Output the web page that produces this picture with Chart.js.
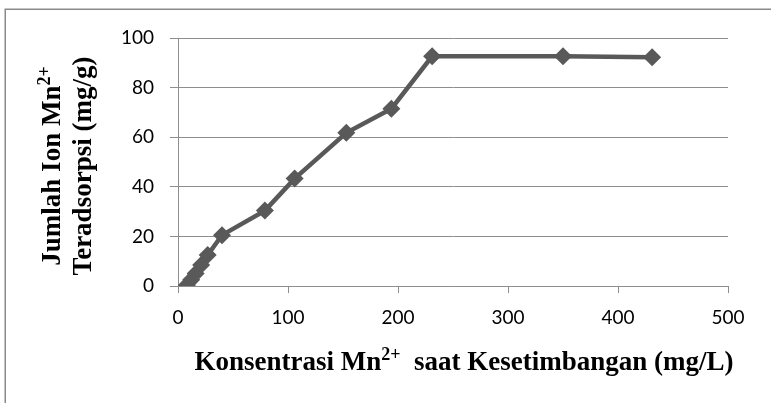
<!DOCTYPE html>
<html>
<head>
<meta charset="utf-8">
<script src="https://cdn.jsdelivr.net/npm/chart.js@4"></script>
<style>
  html, body { margin: 0; padding: 0; background: #ffffff; }
  canvas { display: block; }
</style>
</head>
<body>
<canvas id="isoterm" width="771" height="403"></canvas>
<script>
// Equilibrium concentration of Mn2+ (mg/L) and amount adsorbed (mg/g)
const konsentrasi = [8, 12, 16, 21, 27, 40, 79, 106, 153, 194, 231, 350, 431];
const teradsorpsi = [0.3, 2.5, 5, 8.5, 12.5, 20.5, 30.4, 43.3, 61.8, 71.5, 92.6, 92.6, 92.2];

// Axis tick values
const xTicks = [0, 100, 200, 300, 400, 500];
const yTicks = [0, 20, 40, 60, 80, 100];

// Axis titles as text runs; "sup" runs are set as superscripts
const xTitleRuns = [
  { text: 'Konsentrasi Mn' }, { text: '2+', sup: true }, { text: '  saat Kesetimbangan (mg/L)' }
];
const yTitleLine1 = [
  { text: 'Jumlah Ion Mn' }, { text: '2+', sup: true }
];
const yTitleLine2 = [
  { text: 'Teradsorpsi (mg/g)' }
];

const points = konsentrasi.map((x, i) => ({ x: x, y: teradsorpsi[i] }));

const gridGray = '#8e8e8e';
const tickFont = { family: 'Lato', size: 19 };
const titleSize = 27;
const titleFamily = '"Liberation Serif", "Times New Roman", serif';

// Outer frame around the chart
const framePlugin = {
  id: 'frame',
  beforeDraw(chart) {
    const ctx = chart.ctx;
    ctx.save();
    ctx.fillStyle = '#ffffff';
    ctx.fillRect(0, 0, chart.width, chart.height);
    ctx.strokeStyle = '#8a8a8a';
    ctx.lineWidth = 1.5;
    ctx.strokeRect(5.25, 9.25, chart.width + 20, chart.height + 20);
    ctx.restore();
  }
};

// Draws a run list centred on x=0 along the current baseline (y=0)
function drawRuns(ctx, runs) {
  const supSize = Math.round(titleSize * 0.65);
  const fontOf = r => 'bold ' + (r.sup ? supSize : titleSize) + 'px ' + titleFamily;
  let total = 0;
  runs.forEach(r => { ctx.font = fontOf(r); total += ctx.measureText(r.text).width; });
  let x = -total / 2;
  runs.forEach(r => {
    ctx.font = fontOf(r);
    ctx.fillText(r.text, x, r.sup ? -titleSize * 0.36 : 0);
    x += ctx.measureText(r.text).width;
  });
}

// Axis titles with superscript charge labels
const axisTitlePlugin = {
  id: 'axisTitles',
  afterDraw(chart) {
    const ctx = chart.ctx;
    const area = chart.chartArea;
    ctx.save();
    ctx.fillStyle = '#000000';
    ctx.textBaseline = 'alphabetic';
    ctx.textAlign = 'left';

    // x title below the tick labels
    ctx.save();
    ctx.translate(area.left + (area.right - area.left) / 2 + 11, area.bottom + 84);
    drawRuns(ctx, xTitleRuns);
    ctx.restore();

    // y title, two rotated lines
    const cy = area.top + (area.bottom - area.top) / 2 + 4;
    [[yTitleLine1, 60], [yTitleLine2, 91]].forEach(([runs, bx]) => {
      ctx.save();
      ctx.translate(bx, cy);
      ctx.rotate(-Math.PI / 2);
      drawRuns(ctx, runs);
      ctx.restore();
    });
    ctx.restore();
  }
};

new Chart(document.getElementById('isoterm'), {
  type: 'line',
  data: {
    datasets: [{
      data: points,
      borderColor: '#595959',
      backgroundColor: '#595959',
      borderWidth: 4.5,
      pointStyle: 'rectRot',
      pointRadius: 9,
      pointBorderWidth: 0,
      pointBackgroundColor: '#595959',
      tension: 0
    }]
  },
  options: {
    responsive: false,
    animation: false,
    devicePixelRatio: 1,
    layout: { padding: { left: 0, right: 43, top: 38, bottom: 0 } },
    plugins: {
      legend: { display: false },
      tooltip: { enabled: false }
    },
    scales: {
      x: {
        type: 'linear',
        min: 0,
        max: 500,
        afterBuildTicks(scale) { scale.ticks = xTicks.map(v => ({ value: v })); },
        afterFit(scale) { scale.height = 117; },
        grid: {
          drawOnChartArea: false,
          drawTicks: true,
          tickLength: 7,
          color: gridGray,
          lineWidth: 1
        },
        border: { display: true, color: gridGray, width: 1 },
        ticks: { font: tickFont, color: '#000000', padding: 13, maxRotation: 0 }
      },
      y: {
        type: 'linear',
        min: 0,
        max: 100,
        afterBuildTicks(scale) { scale.ticks = yTicks.map(v => ({ value: v })); },
        afterFit(scale) { scale.width = 178; },
        grid: {
          drawOnChartArea: true,
          drawTicks: true,
          tickLength: 8,
          color: gridGray,
          lineWidth: 1
        },
        border: { display: true, color: gridGray, width: 1 },
        ticks: { font: tickFont, color: '#000000', padding: 16 }
      }
    }
  },
  plugins: [framePlugin, axisTitlePlugin]
});
</script>
</body>
</html>
